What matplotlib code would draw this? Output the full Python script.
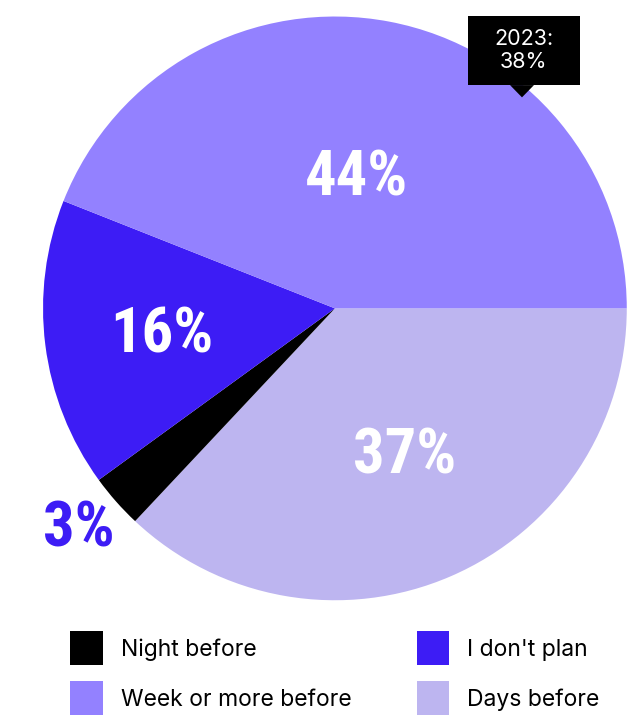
import numpy as np
import matplotlib
matplotlib.use("Agg")
import matplotlib.pyplot as plt
from matplotlib.patches import Patch, Rectangle, Polygon

# share of respondents by when they plan, clockwise from 3 o'clock
labels = ["Days before", "Night before", "I don't plan", "Week or more before"]
shares = [37, 3, 16, 44]
colors = ["#bdb5f0", "#000000", "#3d1cf5", "#9381ff"]

prev_year_label = "2023:\n38%"

big_font = ["Roboto Condensed", "Liberation Sans Narrow", "DejaVu Sans"]
plt.rcParams["font.family"] = ["Inter", "DejaVu Sans"]

fig = plt.figure(figsize=(6.31, 7.18), dpi=100)
ax = fig.add_axes([0.068, 0.164, 0.9255, 0.813])

wedges, _ = ax.pie(shares, colors=colors, startangle=0, counterclock=False,
                   radius=1, wedgeprops=dict(linewidth=0))
ax.set_xlim(-1, 1)
ax.set_ylim(-1, 1)

# label placement: (radial distance, angle offset in degrees, color)
label_style = [(0.56, 2, "white"), (1.16, -0.6, "#3d1cf5"),
               (0.60, 1.6, "white"), (0.45, 1.2, "white")]
for w, s, (r, off, c) in zip(wedges, shares, label_style):
    mid = np.deg2rad((w.theta1 + w.theta2) / 2 + off)
    ax.text(r * np.cos(mid), r * np.sin(mid), f"{s}%", ha="center", va="center",
            color=c, fontsize=45, fontweight="bold", family=big_font,
            fontstretch="condensed")

# previous-year callout on the week-or-more slice
ax.add_patch(Rectangle((0.455, 0.764), 0.384, 0.239, facecolor="black",
                       edgecolor="none", clip_on=False, zorder=3))
ax.add_patch(Polygon([(0.600, 0.765), (0.682, 0.765), (0.641, 0.723)],
                     closed=True, facecolor="black", edgecolor="none",
                     clip_on=False, zorder=3))
ax.text(0.647, 0.884, prev_year_label, ha="center", va="center", color="white",
        fontsize=15.5, linespacing=1.2, zorder=4)

handles = [Patch(facecolor=colors[i], edgecolor="none", label=labels[i])
           for i in [1, 3, 2, 0]]
fig.legend(handles=handles, ncol=2, loc="lower left",
           bbox_to_anchor=(0.088, -0.017), frameon=False, fontsize=16.5,
           handlelength=1.4, handleheight=1.9, handletextpad=0.8,
           columnspacing=2.85, labelspacing=0.7, borderpad=0.15)

fig.savefig("out.png", dpi=100)
